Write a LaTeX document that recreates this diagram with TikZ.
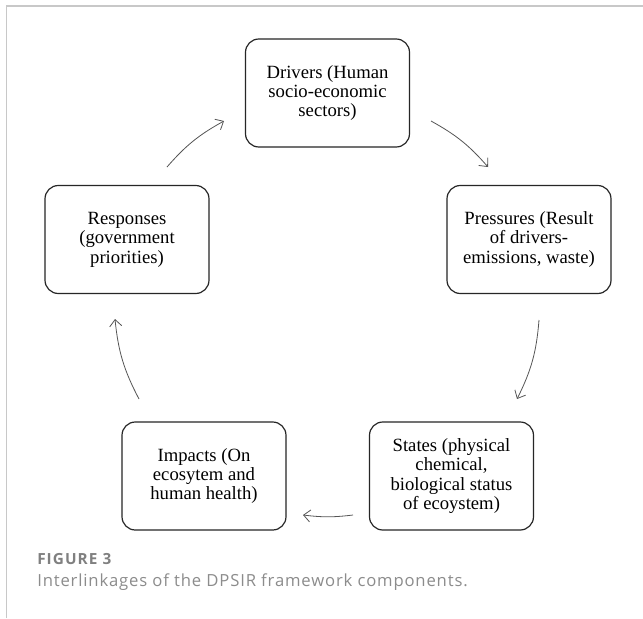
\documentclass[tikz,border=0pt]{standalone}
\usepackage{fontspec}
\setmainfont{Liberation Serif}
\newfontfamily\capfont{Open Sans}
\usepackage{xcolor}
\usetikzlibrary{arrows.meta, positioning}

\definecolor{framegray}{RGB}{200,200,200}
\definecolor{flowgray}{RGB}{85,85,85}
\definecolor{capgray}{RGB}{128,128,128}
\definecolor{textgray}{RGB}{140,140,140}

\tikzset{
    stage/.style={draw=black!85, line width=0.9pt, rounded corners=10pt, minimum width=123pt, minimum height=81pt, inner sep=2pt, align=center, font=\fontsize{14}{14.6}\selectfont},
    flow/.style={draw=flowgray, line width=0.6pt, -{Straight Barb[length=5pt,width=9pt]}},
    caption/.style={anchor=base west, inner sep=0pt}
}

\begin{document}
\begin{tikzpicture}[x=0.75pt,y=0.75pt,yscale=-1,xscale=1]
    \useasboundingbox (0,0) rectangle (643,618);
    \fill[white] (0,0) rectangle (643,618);

    %Straight Lines: frame
    \draw [draw=framegray, line width=0.8pt]  (6.3,618) -- (6.3,6) -- (643,6) ;

    % Text Node
    \node (drivers) [stage] at (327.5,93) {Drivers (Human\\socio-economic\\sectors)};
    % Text Node
    \node (pressures) [stage] at (529,239.5) {Pressures (Result\\of drivers-\\emissions, waste)};
    % Text Node
    \node (states) [stage] at (451.5,476) {States (physical\\chemical,\\biological status\\of ecoystem)};
    % Text Node
    \node (impacts) [stage] at (204,476) {Impacts (On\\ecosytem and\\human health)};
    % Text Node
    \node (responses) [stage] at (127,239.5) {Responses\\(government\\priorities)};

    %Curve Lines: ends of the arcs
    \coordinate (d-out) at (431,121);
    \coordinate (p-in) at (488,167);
    \coordinate (p-out) at (539,320);
    \coordinate (s-in) at (517,399);
    \coordinate (s-out) at (353,515);
    \coordinate (i-in) at (303,515);
    \coordinate (i-out) at (139,399);
    \coordinate (r-in) at (115,319);
    \coordinate (r-out) at (167,167);
    \coordinate (d-in) at (224,121);

    \draw [flow] (d-out) to [bend right=10] (p-in) ;
    \draw [flow] (p-out) to [bend right=11] (s-in) ;
    \draw [flow] (s-out) to [bend right=7] (i-in) ;
    \draw [flow] (i-out) to [bend right=11] (r-in) ;
    \draw [flow] (r-out) to [bend right=10] (d-in) ;

    % Text Node: caption
    \node (fignum) [caption, font=\capfont\bfseries\fontsize{11.5}{13}\selectfont\addfontfeature{LetterSpace=7}, text=capgray] at (37,564) {FIGURE 3};
    % Text Node
    \node (figtext) [caption, font=\capfont\fontsize{12.5}{14}\selectfont\addfontfeature{LetterSpace=5}, text=textgray] at (37,586) {Interlinkages of the DPSIR framework components.};

\end{tikzpicture}
\end{document}
